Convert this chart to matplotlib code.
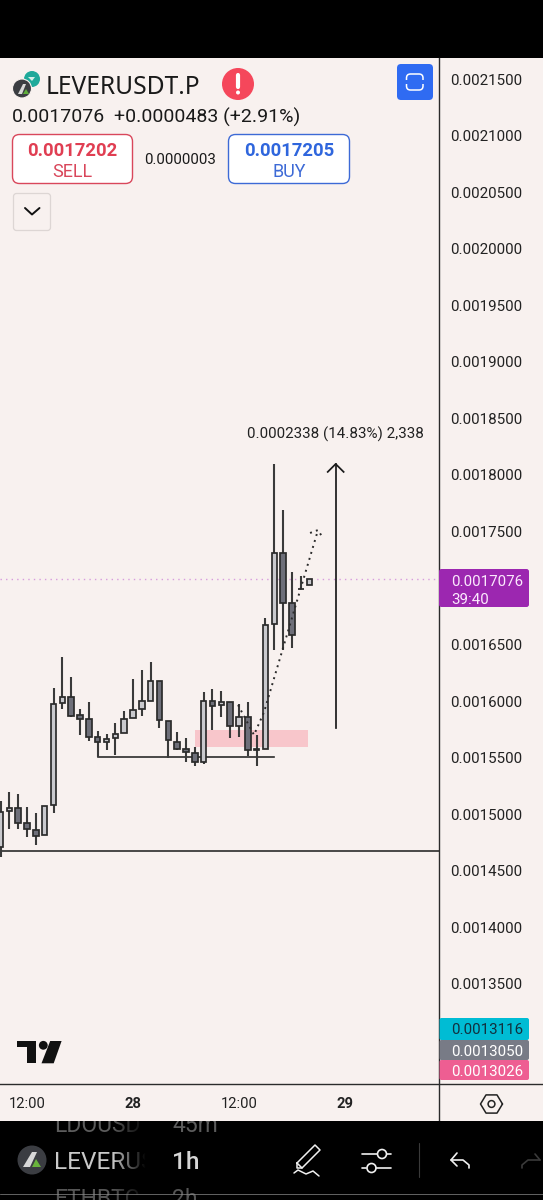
import numpy as np
import matplotlib
matplotlib.use("Agg")
import matplotlib.pyplot as plt
from matplotlib.patches import FancyBboxPatch, Rectangle, Circle, Polygon

# ---------- data (prices in units of 1e-7) ----------
hours = list(range(-15, 21))
opens_e7 = [14707,15025,15054,14922,14860,14813,15081,15980,16036,15873,15841,15682,15635,15676,15720,15850,15932,15998,
            16180,15826,15641,15576,15543,15464,15998,15962,15989,15777,15862,15576,15576,16681,17310,16865,16994,17025]
highs_e7 = [15119,15196,15178,15060,15013,15069,16113,16392,16215,15932,15992,15731,15711,15808,15908,16192,16278,16342,
            16180,15826,15729,15673,15591,16076,16103,16089,15989,15971,15994,15700,16731,18096,17689,17139,17103,17076]
lows_e7 = [14624,14866,14871,14800,14727,14813,15007,15927,15856,15702,15644,15508,15563,15523,15720,15850,15868,15998,
           15764,15494,15567,15464,15426,15443,15744,15856,15670,15684,15514,15428,15576,16451,16451,16465,16989,17025]
closes_e7 = [15022,15054,14924,14869,14804,15069,15976,16038,15870,15841,15679,15635,15667,15711,15841,15921,15998,16180,
             15830,15653,15579,15552,15465,15998,15959,15989,15779,15862,15567,15570,16672,17312,16871,16585,16989,17076]
support_line_e7 = 14674
range_line_e7 = 15508
range_hours = [-4, 16]
zone_hours = [7, 19.8]
zone_prices_e7 = [15594, 15748]
measure_hour = 22.95
measure_prices_e7 = [15758, 18096]
measure_label_hour = 22.9
measure_label_price_e7 = 18361
path_hours = [11.9, 13.7, 14.84, 20.95]
path_prices_e7 = [15965, 15700, 15903, 17512]
head_hours = [20.05, 20.95, 21.5]
head_prices_e7 = [17486, 17512, 17442]
last_price_e7 = 17076
ytick_vals = [21500,21000,20500,20000,19500,19000,18500,18000,17500,16500,16000,15500,15000,14500,14000,13500]
xtick_vals = [-12, 0, 12, 24]
xtick_labels = ["12:00", "28", "12:00", "29"]
tags = [("0.0013116", "#00BCD4", 1018, 1040, "#12313f"),
        ("0.0013050", "#787B86", 1040, 1060, "#ffffff"),
        ("0.0013026", "#EE5E92", 1060, 1080, "#ffffff")]

E7 = 1e-7
BG = "#F8F1EF"
INK = "#2b2b2b"
LIGHT = "#C9C9CD"
DARK = "#6E6F79"
F = "Roboto"
W, H = 543, 1200
LEFT, RIGHT, TOP, BOTTOM = 0, 439, 60, 1084

fig = plt.figure(figsize=(W/100, H/100), dpi=100, facecolor=BG)

# ---------- main chart axes ----------
ax = fig.add_axes([LEFT/W, 1-BOTTOM/H, (RIGHT-LEFT)/W, (BOTTOM-TOP)/H], facecolor="none", zorder=2)
ax.set_xlim(-15.06, 34.65)
ax.set_ylim(12614*E7, 21668*E7)
for s in ("top", "left", "right", "bottom"):
    ax.spines[s].set_visible(False)
ax.yaxis.tick_right()
ax.set_yticks([v*E7 for v in ytick_vals])
ax.set_yticklabels([f"{v*E7:.7f}" for v in ytick_vals], fontfamily=F, fontsize=10.9, color="#222222")
ax.tick_params(axis="y", length=0, pad=7.8)
ax.set_xticks(xtick_vals)
ax.set_xticklabels(xtick_labels, fontfamily=F, fontsize=10.6, color="#222222")
for lab, txt_ in zip(ax.get_xticklabels(), xtick_labels):
    if ":" not in txt_:
        lab.set_fontweight("bold")
ax.tick_params(axis="x", length=0, pad=9.4)

o, h, l, c = [np.array(a)*E7 for a in (opens_e7, highs_e7, lows_e7, closes_e7)]
t = np.array(hours)
up = c >= o
ax.add_patch(Rectangle((zone_hours[0], zone_prices_e7[0]*E7), zone_hours[1]-zone_hours[0],
                       (zone_prices_e7[1]-zone_prices_e7[0])*E7, facecolor="#F8C6CB", edgecolor="none", zorder=1))
ax.axhline(support_line_e7*E7, color=INK, lw=1.2, zorder=2)
ax.plot(range_hours, [range_line_e7*E7]*2, color=INK, lw=1.2, zorder=2)
ax.axhline(last_price_e7*E7, color="#D79BDD", lw=1.0, ls=(0, (1, 3)), zorder=2)
ax.vlines(t, l, h, color="#3a3a3a", lw=1.5, zorder=3)
ax.bar(t, np.maximum(np.abs(c-o), 1e-8), bottom=np.minimum(o, c), width=0.62,
       color=[LIGHT if u else DARK for u in up], edgecolor=INK, linewidth=1.25, zorder=4)
ax.plot(path_hours, np.array(path_prices_e7)*E7, color=INK, lw=1.4, ls=(0, (1, 2.2)), zorder=5)
ax.plot(head_hours, np.array(head_prices_e7)*E7, color=INK, lw=1.4, ls=(0, (1, 2.2)), zorder=5)
ax.plot([measure_hour]*2, np.array(measure_prices_e7)*E7, color="#1a1a1a", lw=1.25, zorder=5)
ax.plot([measure_hour-0.9, measure_hour, measure_hour+0.9],
        [(measure_prices_e7[1]-70)*E7, measure_prices_e7[1]*E7, (measure_prices_e7[1]-70)*E7],
        color="#1a1a1a", lw=1.25, zorder=5)
ax.text(measure_label_hour, measure_label_price_e7*E7, "0.0002338 (14.83%) 2,338", fontfamily=F, fontsize=10.9,
        color="#222222", va="center", ha="center", zorder=6)

# ---------- pixel-space UI layer ----------
ui = fig.add_axes([0, 0, 1, 1], facecolor="none", zorder=3)
ui.set_xlim(0, W); ui.set_ylim(H, 0); ui.axis("off")

def rbox(x0, y0, x1, y1, r, fc, ec="none", lw=1.0, z=3):
    ui.add_patch(FancyBboxPatch((x0, y0), x1-x0, y1-y0, boxstyle=f"round,pad=0,rounding_size={r}",
                                fc=fc, ec=ec, lw=lw, zorder=z))

def txt(x, y, s, size, color="#1a1a1a", ha="left", weight="normal", family=F, **kw):
    return ui.text(x, y, s, fontsize=size, color=color, ha=ha, va="center_baseline",
                   fontweight=weight, fontfamily=family, **kw)

def line(xs, ys, color="white", lw=1.2, z=6):
    ui.plot(xs, ys, color=color, lw=lw, solid_capstyle="round", solid_joinstyle="round", zorder=z)

# top & bottom black, frame lines
ui.add_patch(Rectangle((0, 0), W, 58, fc="black", ec="none", zorder=1))
ui.add_patch(Rectangle((0, 1121), W, 79, fc="black", ec="none", zorder=1))
ui.plot([439, 439], [58, 1121], color=INK, lw=1.0, zorder=2)
ui.plot([0, W], [1084, 1084], color=INK, lw=1.0, zorder=2)

# header
ui.add_patch(Circle((32, 79), 8, fc="#1FA99A", zorder=3))
ui.add_patch(Polygon([[28, 77], [35, 77], [32, 81]], fc="#d5efe9", zorder=3))
ui.add_patch(Circle((22, 88.5), 9.5, fc="#3b3d42", ec=BG, lw=0.8, zorder=4))
ui.add_patch(Polygon([[18, 94], [23, 84], [26, 84], [22, 94]], fc="#d8d8d8", zorder=5))
ui.add_patch(Polygon([[23, 94], [26, 89], [29, 94]], fc="#5fae3a", zorder=5))
txt(46, 84, "LEVERUSDT.P", 17.7, "#1a1a1a", family="Noto Sans")
ui.add_patch(Circle((238, 84), 16, fc="#F5475B", zorder=3))
line([238, 238], [75, 87], lw=3.0)
ui.add_patch(Circle((238, 92.5), 2.0, fc="white", zorder=6))
rbox(397, 64, 433, 100, 4, "#2F6BF2")
rbox(406.5, 74, 423, 90, 4, "none", "white", 1.1, z=4)
ui.add_patch(Rectangle((404, 80), 22, 4, fc="#2F6BF2", zorder=5))
txt(12, 115, "0.0017076", 14.0, "#1a1a1a")
txt(114, 115, "+0.0000483 (+2.91%)", 14.0, "#1a1a1a")
rbox(12.5, 134.5, 132.5, 183.5, 7, "white", "#D9475B", 1.0)
txt(72.5, 149, "0.0017202", 13.3, "#E03E52", ha="center", weight="bold")
txt(72.5, 170, "SELL", 13.0, "#D9475B", ha="center")
txt(180.5, 158, "0.0000003", 10.8, "#1a1a1a", ha="center")
rbox(228.5, 134.5, 349.5, 183.5, 7, "white", "#3D6AD6", 1.0)
txt(289, 149, "0.0017205", 13.3, "#2F66DD", ha="center", weight="bold")
txt(289, 170, "BUY", 13.0, "#3D6AD6", ha="center")
rbox(13.5, 193.5, 50.5, 230.5, 3, BG, "#DDD6D4", 0.9)
line([25, 32, 39.5], [208, 214.5, 208], color="#111111", lw=1.4)

# price tags
rbox(439, 569, 529, 607, 2.5, "#9C27B0")
txt(451, 581, "0.0017076", 10.9, "#FBE9FD")
txt(451, 598, "39:40", 10.9, "#FBE9FD")
for label, col, y0, y1, tc in tags:
    rbox(439.5, y0, 529, y1, 2, col)
    txt(451, (y0+y1)/2, label, 10.9, tc, zorder=4)

# TradingView logo
ui.add_patch(Polygon([[17.3, 1041], [36.4, 1041], [36.4, 1063.3], [27, 1063.3], [27, 1047.3], [17.3, 1047.3]], fc="#111111", zorder=3))
ui.add_patch(Circle((43.3, 1045.3), 4.4, fc="#111111", zorder=3))
ui.add_patch(Polygon([[50.2, 1041], [61.6, 1041], [53.7, 1063.3], [41.5, 1063.3]], fc="#111111", zorder=3))

# settings hexagon
ang = np.radians([0, 60, 120, 180, 240, 300, 360])
line(491.5+11*np.cos(ang), 1104+10.5*np.sin(ang), color="#222222", lw=1.1)
ui.add_patch(Circle((491.5, 1104), 3.4, fc="none", ec="#222222", lw=1.1, zorder=6))

# bottom navigation
clip = Rectangle((0, 1121), W, 79, transform=ui.transData)
for x, y, s, col, size, w in [(54, 1123, "LDOUSD", "#5c5c5c", 16.5, "normal"), (172, 1123, "45m", "#5c5c5c", 16.5, "normal"),
                              (54, 1197, "ETHBTC", "#555555", 16.5, "normal"), (172, 1197, "2h", "#555555", 16.5, "normal"),
                              (54, 1160, "LEVERUS", "#C9C9C9", 17.6, "normal"), (172, 1160, "1h", "#D6D6D6", 17.6, "medium")]:
    tx = txt(x, y, s, size, col, weight=w, zorder=3)
    tx.set_clip_path(clip)
    tx.set_clip_on(True)
grad = np.zeros((1, 40, 4)); grad[..., 3] = np.linspace(0, 1, 40)
ui.imshow(grad, extent=(112, 146, 1200, 1121), aspect="auto", zorder=4)
ui.add_patch(Rectangle((146, 1121), 25, 79, fc="black", ec="none", zorder=4))
ui.add_patch(Rectangle((225, 1121), W-225, 73, fc="black", ec="none", zorder=4))
ui.plot([0, W], [1194, 1194], color="#8a8a8a", lw=0.5, zorder=5)
ui.set_xlim(0, W); ui.set_ylim(H, 0)

ui.add_patch(Circle((32, 1160), 14.5, fc="#3b3d42", zorder=5))
ui.add_patch(Polygon([[23, 1167], [32, 1152], [37, 1152], [30, 1167]], fc="#d8d8d8", zorder=6))
ui.add_patch(Polygon([[32, 1167], [36, 1159], [41, 1167]], fc="#6ab43c", zorder=6))
# pencil
line([297, 315, 320, 302, 297, 297], [1163, 1145, 1150, 1168, 1168, 1163], color="#F0F0F0", lw=1.1)
line([297, 302], [1163, 1168], color="#F0F0F0", lw=1.1)
line([294, 298, 306, 313, 319], [1173, 1170, 1174, 1171, 1176], color="#F0F0F0", lw=1.1)
# sliders
line([362, 377], [1154, 1154], color="#F0F0F0", lw=1.2); line([387, 391], [1154, 1154], color="#F0F0F0", lw=1.2)
line([362, 366], [1168, 1168], color="#F0F0F0", lw=1.2); line([376, 391], [1168, 1168], color="#F0F0F0", lw=1.2)
ui.add_patch(Circle((382, 1154), 4.5, fc="none", ec="#F0F0F0", lw=1.2, zorder=6))
ui.add_patch(Circle((371.5, 1168), 4.5, fc="none", ec="#F0F0F0", lw=1.2, zorder=6))
line([418.5, 418.5], [1143, 1177], color="#3a3a3a", lw=0.8)
# undo / redo
line([457, 451, 457], [1153, 1160, 1166], color="#F0F0F0", lw=1.2)
line([451, 463, 469, 469], [1160, 1160, 1165, 1168], color="#F0F0F0", lw=1.2)
line([522, 522, 528, 540], [1168, 1165, 1160, 1160], color="#3a3a3a", lw=1.2)
line([535, 540], [1154, 1160], color="#3a3a3a", lw=1.2)

fig.savefig("out.png", dpi=100, facecolor=BG)
